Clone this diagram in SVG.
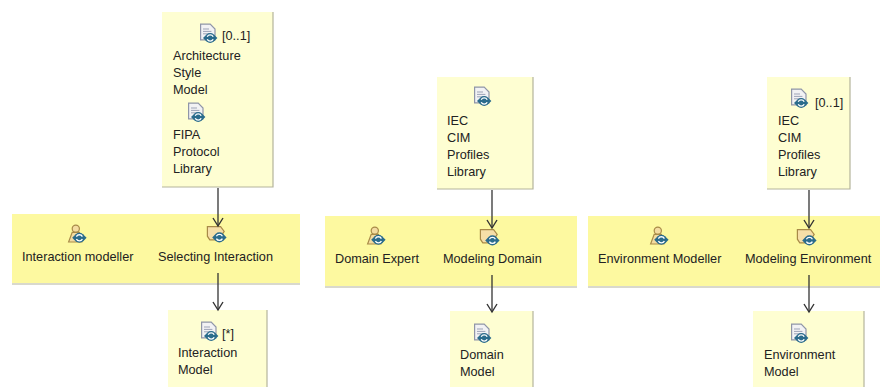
<svg xmlns="http://www.w3.org/2000/svg" width="893" height="387" viewBox="0 0 893 387">
<style>
text{font-family:"Liberation Sans",Arial,sans-serif;font-size:12.7px;fill:#222}
.art{fill:#fefed2}
.band{fill:#fdf9a0}
.edge{fill:none;stroke:#b4b49c;stroke-width:1.2}
.c{fill:none;stroke:#333;stroke-width:1.3}
</style>
<defs>
<marker id="a" markerWidth="12" markerHeight="12" refX="9" refY="6" orient="auto" markerUnits="userSpaceOnUse"><path d="M1 1L9 6L1 11" fill="none" stroke="#333" stroke-width="1.4"/></marker>
<g id="sync"><circle cx="0" cy="0" r="4.2" fill="#2b6c8c"/><path d="M-6 0L-3 -3V3ZM6 0L3 -3V3Z" fill="#2b6c8c"/><path d="M-2.5 -1A2.8 2.8 0 0 1 2.5 -1M2.500 1A2.8 2.8 0 0 1 -2.5 1" fill="none" stroke="#fff" stroke-width="1.1"/></g>
<g id="doc" transform="scale(1.2)"><path d="M-7 -9H1L5 -5V4H-7Z" fill="#f2f2f4" stroke="#8f95a8"/><path d="M-5 -5H0M-5 -3H2M-5 -1H2" stroke="#9aa0b4" stroke-width=".8"/><use href="#sync" x="1" y="2.500"/></g>
<g id="role" transform="scale(1.2)"><circle cx="-1" cy="-6" r="3" fill="#f4dca0" stroke="#a88a48"/><path d="M-7 5L-4 -3H2L4 5Z" fill="#f4dca0" stroke="#a88a48"/><use href="#sync" x="2" y="1.500"/></g>
<g id="task" transform="scale(1.2)"><path d="M-8 -7H3L6 -3L1 4H-6L-8 1Z" fill="#f6dfa8" stroke="#a88a48"/><use href="#sync" x="2" y="2"/></g>
</defs>
<g id="arch-artifacts">
<path class="art" d="M162 12H273V187H162Z"/><path class="edge" d="M273 12V187H162"/>
<use href="#doc" x="209" y="35"/><text x="222" y="40">[0..1]</text>
<text x="173" y="60">Architecture</text><text x="173" y="77">Style</text><text x="173" y="94">Model</text>
<use href="#doc" x="197" y="114"/>
<text x="173" y="139">FIPA</text><text x="173" y="156">Protocol</text><text x="173" y="173">Library</text>
</g>
<g id="selecting-interaction">
<path class="band" d="M12 214H300V283H12Z"/><path class="edge" d="M12 284H300"/>
<use href="#role" x="77" y="236"/><text x="22" y="261">Interaction modeller</text>
<use href="#task" x="217" y="235"/><text x="158" y="261">Selecting Interaction</text>
</g>
<g id="interaction-model">
<path class="art" d="M168 310H267V387H168Z"/><path class="edge" d="M267 310V387"/>
<use href="#doc" x="210" y="333"/><text x="222" y="338">[*]</text>
<text x="178" y="357">Interaction</text><text x="178" y="374">Model</text>
</g>
<g id="iec-library-1">
<path class="art" d="M437 77H533V189H437Z"/><path class="edge" d="M533 77V189H437"/>
<use href="#doc" x="483" y="98"/>
<text x="447" y="125">IEC</text><text x="447" y="142">CIM</text><text x="447" y="159">Profiles</text><text x="447" y="176">Library</text>
</g>
<g id="modeling-domain">
<path class="band" d="M325 216H577V286H325Z"/><path class="edge" d="M325 287H577"/>
<use href="#role" x="376" y="238"/><text x="335" y="263">Domain Expert</text>
<use href="#task" x="490" y="238"/><text x="443" y="263">Modeling Domain</text>
</g>
<g id="domain-model">
<path class="art" d="M450 311H533V387H450Z"/><path class="edge" d="M533 311V387"/>
<use href="#doc" x="483" y="335"/>
<text x="460" y="359">Domain</text><text x="460" y="376">Model</text>
</g>
<g id="iec-library-2">
<path class="art" d="M767 77H850V189H767Z"/><path class="edge" d="M850 77V189H767"/>
<use href="#doc" x="800" y="100"/><text x="815" y="107">[0..1]</text>
<text x="778" y="125">IEC</text><text x="778" y="142">CIM</text><text x="778" y="159">Profiles</text><text x="778" y="176">Library</text>
</g>
<g id="modeling-environment">
<path class="band" d="M588 216H880V286H588Z"/><path class="edge" d="M588 287H880"/>
<use href="#role" x="659" y="238"/><text x="598" y="263">Environment Modeller</text>
<use href="#task" x="807" y="238"/><text x="745" y="263">Modeling Environment</text>
</g>
<g id="environment-model">
<path class="art" d="M753 311H864V387H753Z"/><path class="edge" d="M864 311V387"/>
<use href="#doc" x="800" y="335"/>
<text x="764" y="359">Environment</text><text x="764" y="376">Model</text>
</g>
<g id="connectors">
<path class="c" marker-end="url(#a)" d="M218 188V226"/>
<path class="c" marker-end="url(#a)" d="M218 273V310"/>
<path class="c" marker-end="url(#a)" d="M492 190V228"/>
<path class="c" marker-end="url(#a)" d="M492 275V312"/>
<path class="c" marker-end="url(#a)" d="M809 190V228"/>
<path class="c" marker-end="url(#a)" d="M809 275V312"/>
</g>
</svg>
